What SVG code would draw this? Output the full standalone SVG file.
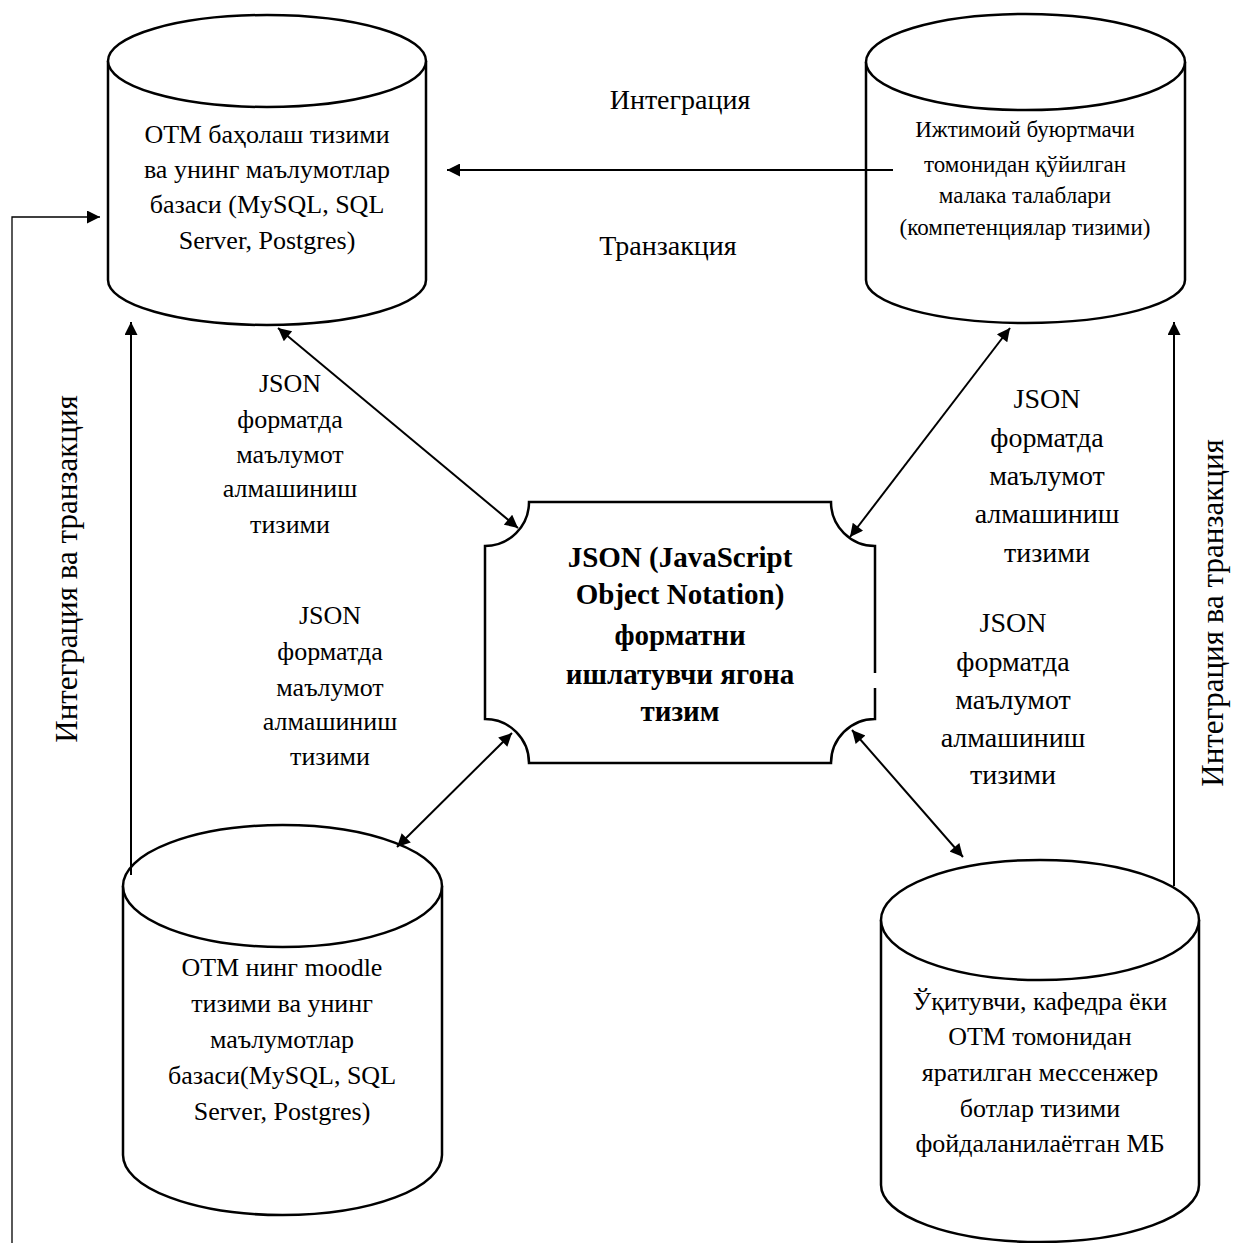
<svg xmlns="http://www.w3.org/2000/svg" width="1234" height="1243" viewBox="0 0 1234 1243">
  <style>
    .db { fill: #ffffff; stroke: #000000; stroke-width: 2.5; }
    .hub { fill: #ffffff; stroke: #000000; stroke-width: 2.5; }
    .t { font-family: "Liberation Serif", "Times New Roman", serif; fill: #000000; text-anchor: middle; }
    .b { font-weight: bold; }
    .ln { fill: none; stroke: #000000; stroke-width: 2; }
    .thin { fill: none; stroke: #000000; stroke-width: 1.3; }
  </style>
  <defs>
    <marker id="ah" viewBox="0 0 10 10" refX="10" refY="5" markerWidth="17" markerHeight="13" markerUnits="userSpaceOnUse" orient="auto-start-reverse">
      <path d="M0,0 L10,5 L0,10 z" fill="#000000"/>
    </marker>
  </defs>
  <rect width="1234" height="1243" fill="#ffffff"/>

  <!-- database: assessment system -->
  <g id="db-assessment">
    <path class="db" d="M108,61 L108,280 A159,45 0 0 0 426,280 L426,61"/>
    <ellipse class="db" cx="267" cy="61" rx="159" ry="46"/>
    <text class="t" font-size="26" x="267" y="143">ОТМ баҳолаш тизими</text>
    <text class="t" font-size="26" x="267" y="178">ва унинг маълумотлар</text>
    <text class="t" font-size="26" x="267" y="213">базаси (MySQL, SQL</text>
    <text class="t" font-size="26" x="267" y="249">Server, Postgres)</text>
  </g>

  <!-- database: employer competency requirements -->
  <g id="db-requirements">
    <path class="db" d="M866,62 L866,280 A159.5,43 0 0 0 1185,280 L1185,62"/>
    <ellipse class="db" cx="1025.5" cy="62" rx="159.5" ry="48"/>
    <text class="t" font-size="23" x="1025" y="137">Ижтимоий буюртмачи</text>
    <text class="t" font-size="23" x="1025" y="172">томонидан қўйилган</text>
    <text class="t" font-size="23" x="1025" y="203">малака талаблари</text>
    <text class="t" font-size="23" x="1025" y="235">(компетенциялар тизими)</text>
  </g>

  <!-- database: moodle -->
  <g id="db-moodle">
    <path class="db" d="M123,886 L123,1155 A159.5,60 0 0 0 442,1155 L442,886"/>
    <ellipse class="db" cx="282.5" cy="886" rx="159.5" ry="61"/>
    <text class="t" font-size="26" x="282" y="976">ОТМ нинг moodle</text>
    <text class="t" font-size="26" x="282" y="1012">тизими ва унинг</text>
    <text class="t" font-size="26" x="282" y="1048">маълумотлар</text>
    <text class="t" font-size="26" x="282" y="1084">базаси(MySQL, SQL</text>
    <text class="t" font-size="26" x="282" y="1120">Server, Postgres)</text>
  </g>

  <!-- database: messenger bots -->
  <g id="db-bots">
    <path class="db" d="M881,920 L881,1185 A159,57 0 0 0 1199,1185 L1199,920"/>
    <ellipse class="db" cx="1040" cy="920" rx="159" ry="60"/>
    <text class="t" font-size="26" x="1040" y="1010">Ўқитувчи, кафедра ёки</text>
    <text class="t" font-size="26" x="1040" y="1045">ОТМ томонидан</text>
    <text class="t" font-size="26" x="1040" y="1081">яратилган мессенжер</text>
    <text class="t" font-size="26" x="1040" y="1117">ботлар тизими</text>
    <text class="t" font-size="26" x="1040" y="1152">фойдаланилаётган МБ</text>
  </g>

  <!-- central exchange hub -->
  <g id="hub">
    <path d="M529,502 L831,502 A44,44 0 0 0 875,546 L875,719 A44,44 0 0 0 831,763 L529,763 A44,44 0 0 0 485,719 L485,546 A44,44 0 0 0 529,502 Z" fill="#ffffff"/>
    <path class="hub" fill="none" d="M875,688 L875,719 A44,44 0 0 0 831,763 L529,763 A44,44 0 0 0 485,719 L485,546 A44,44 0 0 0 529,502 L831,502 A44,44 0 0 0 875,546 L875,673"/>
    <text class="t b" font-size="29" x="680" y="567">JSON (JavaScript</text>
    <text class="t b" font-size="29" x="680" y="604">Object Notation)</text>
    <text class="t b" font-size="29" x="680" y="645">форматни</text>
    <text class="t b" font-size="29" x="680" y="684">ишлатувчи ягона</text>
    <text class="t b" font-size="29" x="680" y="721">тизим</text>
  </g>

  <!-- connectors -->
  <g id="connectors">
    <path class="ln" d="M893,170 L447,170" marker-end="url(#ah)"/>
    <path class="thin" d="M12,1243 L12,217 L100,217" marker-end="url(#ah)"/>
    <path class="ln" d="M131,875 L131,322" marker-end="url(#ah)"/>
    <path class="ln" d="M1174,886 L1174,322" marker-end="url(#ah)"/>
    <path class="ln" d="M278,328 L518,528" marker-start="url(#ah)" marker-end="url(#ah)"/>
    <path class="ln" d="M1010,328 L850,537" marker-start="url(#ah)" marker-end="url(#ah)"/>
    <path class="ln" d="M512,733 L397,847" marker-start="url(#ah)" marker-end="url(#ah)"/>
    <path class="ln" d="M852,730 L963,857" marker-start="url(#ah)" marker-end="url(#ah)"/>
  </g>

  <!-- connector labels -->
  <g id="labels">
    <text class="t" font-size="28" x="680" y="109">Интеграция</text>
    <text class="t" font-size="28" x="668" y="255">Транзакция</text>

    <text class="t" font-size="26" x="290" y="392">JSON</text>
    <text class="t" font-size="26" x="290" y="428">форматда</text>
    <text class="t" font-size="26" x="290" y="463">маълумот</text>
    <text class="t" font-size="26" x="290" y="497">алмашиниш</text>
    <text class="t" font-size="26" x="290" y="533">тизими</text>

    <text class="t" font-size="26" x="330" y="624">JSON</text>
    <text class="t" font-size="26" x="330" y="660">форматда</text>
    <text class="t" font-size="26" x="330" y="696">маълумот</text>
    <text class="t" font-size="26" x="330" y="730">алмашиниш</text>
    <text class="t" font-size="26" x="330" y="765">тизими</text>

    <text class="t" font-size="28" x="1047" y="408">JSON</text>
    <text class="t" font-size="28" x="1047" y="447">форматда</text>
    <text class="t" font-size="28" x="1047" y="485">маълумот</text>
    <text class="t" font-size="28" x="1047" y="523">алмашиниш</text>
    <text class="t" font-size="28" x="1047" y="562">тизими</text>

    <text class="t" font-size="28" x="1013" y="632">JSON</text>
    <text class="t" font-size="28" x="1013" y="671">форматда</text>
    <text class="t" font-size="28" x="1013" y="709">маълумот</text>
    <text class="t" font-size="28" x="1013" y="747">алмашиниш</text>
    <text class="t" font-size="28" x="1013" y="784">тизими</text>

    <text class="t" font-size="31" transform="translate(77,569) rotate(-90)">Интеграция ва транзакция</text>
    <text class="t" font-size="31" transform="translate(1223,613) rotate(-90)">Интеграция ва транзакция</text>
  </g>
</svg>
